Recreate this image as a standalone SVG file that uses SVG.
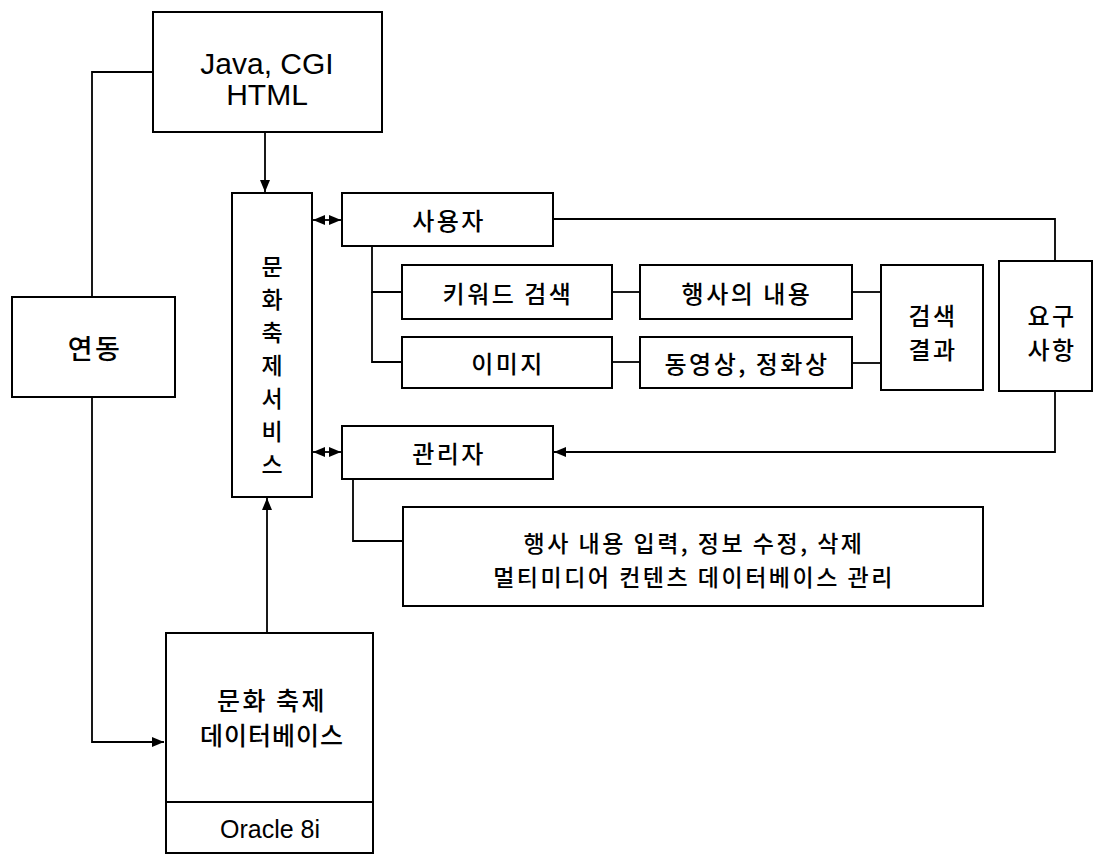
<svg xmlns="http://www.w3.org/2000/svg" width="1104" height="855" viewBox="0 0 1104 855">
<defs>
<marker id="arr" viewBox="0 0 12 10" refX="12" refY="5" markerWidth="12" markerHeight="10" markerUnits="userSpaceOnUse" orient="auto-start-reverse">
<path d="M0,0 L12,5 L0,10 z" fill="#000"/>
</marker>
<style>
rect{fill:#fff;stroke:#000;stroke-width:2}
.c{fill:none;stroke:#000;stroke-width:1.8}
text{font-family:"Liberation Sans","Noto Sans CJK KR",sans-serif;fill:#000;text-anchor:middle;dominant-baseline:central}
.k{font-family:"Noto Sans CJK KR","Liberation Sans",sans-serif;font-size:24px;letter-spacing:2.5px;font-weight:500}
.v{font-family:"Noto Sans CJK KR","Liberation Sans",sans-serif;font-size:23px;font-weight:500}
.l{font-size:30px}
</style>
</defs>
<rect x="0" y="0" width="1104" height="855" style="fill:#fff;stroke:none"/>
<g id="connectors">
<polyline class="c" points="153,72 92,72 92,297"/>
<polyline class="c" points="92,397 92,742 164,742" marker-end="url(#arr)"/>
<line class="c" x1="265" y1="132" x2="265" y2="192" marker-end="url(#arr)"/>
<line class="c" x1="267" y1="633" x2="267" y2="498" marker-end="url(#arr)"/>
<line class="c" x1="313" y1="220" x2="341" y2="220" marker-start="url(#arr)" marker-end="url(#arr)"/>
<line class="c" x1="313" y1="452" x2="341" y2="452" marker-start="url(#arr)" marker-end="url(#arr)"/>
<polyline class="c" points="553,219 1055,219 1055,261"/>
<polyline class="c" points="1055,391 1055,452 554,452" marker-end="url(#arr)"/>
<polyline class="c" points="372,246 372,292 402,292"/>
<polyline class="c" points="372,292 372,362 402,362"/>
<line class="c" x1="612" y1="292" x2="640" y2="292"/>
<line class="c" x1="612" y1="362" x2="640" y2="362"/>
<line class="c" x1="852" y1="292" x2="881" y2="292"/>
<line class="c" x1="852" y1="363" x2="881" y2="363"/>
<polyline class="c" points="353,479 353,541 403,541"/>
</g>
<g id="java">
<rect x="153" y="12" width="229" height="120"/>
<text class="l" x="267" y="63">Java, CGI</text>
<text class="l" x="267" y="94">HTML</text>
</g>
<g id="yeondong">
<rect x="12" y="297" width="163" height="100"/>
<text class="k" x="95" y="347" style="font-size:27px">연동</text>
</g>
<g id="service">
<rect x="232" y="193" width="80" height="304"/>
<text class="v" x="272" y="265">문</text>
<text class="v" x="272" y="298">화</text>
<text class="v" x="272" y="331">축</text>
<text class="v" x="272" y="364">제</text>
<text class="v" x="272" y="397">서</text>
<text class="v" x="272" y="430">비</text>
<text class="v" x="272" y="463">스</text>
</g>
<g id="db">
<rect x="166" y="633" width="207" height="220"/>
<line x1="166" y1="802" x2="373" y2="802" style="stroke:#000;stroke-width:2"/>
<text class="k" x="272" y="699" style="font-size:25px">문화 축제</text>
<text class="k" x="272" y="734" style="font-size:25px;letter-spacing:1px">데이터베이스</text>
<text x="270" y="829" style="font-size:25px">Oracle 8i</text>
</g>
<g id="user">
<rect x="342" y="193" width="211" height="53"/>
<text class="k" x="449" y="219">사용자</text>
</g>
<g id="keyword">
<rect x="402" y="265" width="210" height="54"/>
<text class="k" x="508" y="292">키워드 검색</text>
</g>
<g id="image">
<rect x="402" y="337" width="210" height="51"/>
<text class="k" x="508" y="362">이미지</text>
</g>
<g id="content">
<rect x="640" y="265" width="212" height="54"/>
<text class="k" x="747" y="292">행사의 내용</text>
</g>
<g id="video">
<rect x="640" y="337" width="212" height="51"/>
<text class="k" x="747" y="362">동영상, 정화상</text>
</g>
<g id="result">
<rect x="881" y="265" width="102" height="125"/>
<text class="k" x="933" y="314">검색</text>
<text class="k" x="933" y="348">결과</text>
</g>
<g id="req">
<rect x="999" y="261" width="93" height="130"/>
<text class="k" x="1052" y="314">요구</text>
<text class="k" x="1052" y="348">사항</text>
</g>
<g id="admin">
<rect x="342" y="426" width="211" height="53"/>
<text class="k" x="449" y="452">관리자</text>
</g>
<g id="adminbox">
<rect x="403" y="507" width="580" height="99"/>
<text class="k" x="694" y="542" style="font-size:23px">행사 내용 입력, 정보 수정, 삭제</text>
<text class="k" x="694" y="576" style="font-size:23px">멀티미디어 컨텐츠 데이터베이스 관리</text>
</g>
</svg>
